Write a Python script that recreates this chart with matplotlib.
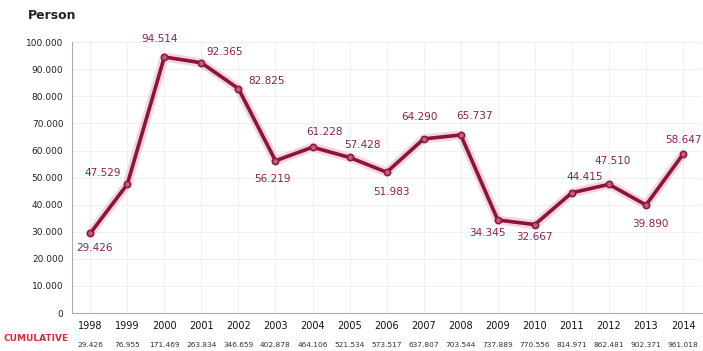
import matplotlib.pyplot as plt

# yearly number of persons and cumulative totals
years = [1998, 1999, 2000, 2001, 2002, 2003, 2004, 2005, 2006,
         2007, 2008, 2009, 2010, 2011, 2012, 2013, 2014]
persons = [29426, 47529, 94514, 92365, 82825, 56219, 61228, 57428, 51983,
           64290, 65737, 34345, 32667, 44415, 47510, 39890, 58647]
cumulative = [29426, 76955, 171469, 263834, 346659, 402878, 464106, 521534, 573517,
              637807, 703544, 737889, 770556, 814971, 862481, 902371, 961018]

# where each value label sits relative to its point (pixels, +y is up)
label_offsets = [(4, -15), (-25, 11), (-5, 18), (23, 11), (28, 8), (-3, -18),
                 (12, 15), (13, 12), (5, -20), (-4, 22), (14, 19), (-10, -13),
                 (0, -12), (13, 16), (4, 23), (4, -19), (0, 14)]

def dotted(v):
    return f"{v:,}".replace(",", ".")

line_color = "#8a1538"
glow_color = "#eeb0c6"

fig = plt.figure(figsize=(7.03, 3.51), dpi=100)
ax = fig.add_axes([0.102, 0.108, 0.896, 0.772])

# soft glow under the line
ax.plot(years, persons, color=glow_color, lw=6.5, alpha=0.55, solid_capstyle="round",
        solid_joinstyle="round", zorder=2)
ax.plot(years, persons, color=line_color, lw=2.6, solid_joinstyle="round", zorder=3,
        marker="o", markersize=4.5, markerfacecolor="#c75a7e", markeredgecolor=line_color,
        markeredgewidth=1.1)

px = 0.72  # points per pixel at dpi 100
for x, y, (dx, dy) in zip(years, persons, label_offsets):
    ax.annotate(dotted(y), (x, y), xytext=(dx * px, dy * px), textcoords="offset points",
                ha="center", va="center", fontsize=7.5, color="#8a2050")

ax.set_xlim(1997.5, 2014.5)
ax.set_ylim(0, 100000)
ax.set_yticks(range(0, 100001, 10000))
ax.set_yticklabels([dotted(v) for v in range(0, 100001, 10000)], fontsize=6.5, color="#222222")
ax.set_xticks(years)
ax.set_xticklabels([str(y) for y in years], fontsize=7, color="#111111")
ax.tick_params(length=0, pad=6)

ax.grid(True, color="#eeeeee", lw=0.6)
ax.set_axisbelow(True)
for s in ["top", "right"]:
    ax.spines[s].set_visible(False)
ax.spines["left"].set_color("#aaaaaa")
ax.spines["bottom"].set_color("#aaaaaa")

fig.text(0.04, 0.945, "Person", fontsize=9, fontweight="bold", color="#222222")
fig.text(0.005, 0.028, "CUMULATIVE", fontsize=6.5, color="#d0303a", fontweight="bold")
for x, c in zip(years, cumulative):
    xf = 0.102 + 0.896 * (x - 1997.5) / 17
    fig.text(xf, 0.018, dotted(c), fontsize=5.3, ha="center", va="center", color="#333333")

fig.savefig("out.png", dpi=100)
